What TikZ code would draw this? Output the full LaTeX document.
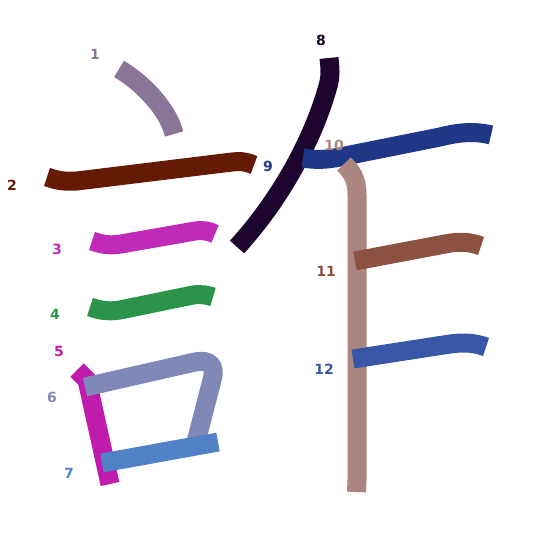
\documentclass[tikz,border=0pt]{standalone}
\usepackage{fontspec}
\setmainfont{DejaVu Sans}
\definecolor{c1}{HTML}{8A7598}
\definecolor{c2}{HTML}{651A05}
\definecolor{c3}{HTML}{BF2BB8}
\definecolor{c4}{HTML}{2C934A}
\definecolor{c5}{HTML}{BF1BAC}
\definecolor{c6}{HTML}{8088B8}
\definecolor{c7}{HTML}{5282C6}
\definecolor{c8}{HTML}{1E0530}
\definecolor{c9}{HTML}{1F3787}
\definecolor{c10}{HTML}{AD8580}
\definecolor{c11}{HTML}{8B5242}
\definecolor{c12}{HTML}{3857A7}
\tikzset{
  stroke/.style={line width=19pt, line cap=butt, line join=miter},
  num/.style={font=\fontsize{14}{14}\selectfont\bfseries, inner sep=0pt}
}
\begin{document}
\begin{tikzpicture}[x=1pt,y=-1pt]
\useasboundingbox (0,0) rectangle (545,545);
\fill[white] (0,0) rectangle (545,545);
% strokes
\draw[stroke,c1] (119,69) .. controls (140,81) and (168,108) .. (174,134);
\draw[stroke,c2] (47,177) .. controls (56,180) and (63,182) .. (77,181) -- (232,162) .. controls (242,161) and (247,162) .. (254,165);
\draw[stroke,c3] (92,241) .. controls (101,244) and (108,246) .. (121,244) -- (195,231) .. controls (204,230) and (209,231) .. (215,234);
\draw[stroke,c4] (90,307) .. controls (99,310) and (107,312) .. (120,310) -- (193,295) .. controls (202,294) and (207,295) .. (213,297);
\draw[stroke,c5] (77,370) -- (87,380) -- (110,484);
\draw[stroke,c6] (85,387) -- (195,362) .. controls (210,359) and (216,366) .. (212,380) -- (196,442);
\draw[stroke,c7] (102,463) -- (218,442);
\draw[stroke,c8] (329,58) .. controls (330,68) and (331,76) .. (328,86) .. controls (313,140) and (280,200) .. (237,247);
\draw[stroke,c9] (303,158) .. controls (315,160) and (325,160) .. (340,157) -- (440,137) .. controls (460,132) and (475,131) .. (491,135);
\draw[stroke,c10] (344,164) .. controls (352,172) and (357,179) .. (357,195) -- (357,480) -- (356.5,492);
\draw[stroke,c11] (355,261) -- (445,244) .. controls (460,241) and (470,242) .. (481,246);
\draw[stroke,c12] (353,359) -- (450,344) .. controls (465,342) and (475,343) .. (486,347);
% labels
\node[num,c1] (n1) at (95,54) {1};
\node[num,c2] (n2) at (12,185) {2};
\node[num,c3] (n3) at (57,249) {3};
\node[num,c4] (n4) at (55,314) {4};
\node[num,c5] (n5) at (59,351) {5};
\node[num,c6] (n6) at (52,397) {6};
\node[num,c7] (n7) at (69,473) {7};
\node[num,c8] (n8) at (321,40) {8};
\node[num,c9] (n9) at (268,166) {9};
\node[num,c10] (n10) at (334,145) {10};
\node[num,c11] (n11) at (326,271) {11};
\node[num,c12] (n12) at (324,369) {12};
\end{tikzpicture}
\end{document}
